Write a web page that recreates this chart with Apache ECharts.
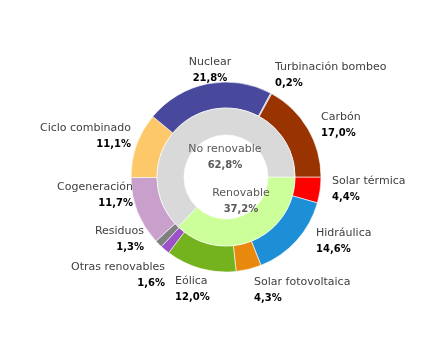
<!DOCTYPE html>
<html><head><meta charset="utf-8">
<script src="https://cdn.jsdelivr.net/npm/echarts@6/dist/echarts.min.js"></script>
<style>html,body{margin:0;padding:0;background:#fff}#c{width:437px;height:352px}</style>
</head><body><div id="c"></div>
<script>
// ---- data ----
const techNames = ['Solar térmica','Hidráulica','Solar fotovoltaica','Eólica','Otras renovables','Residuos','Cogeneración','Ciclo combinado','Nuclear','Turbinación bombeo','Carbón'];
const techValues = [4.4, 14.6, 4.3, 12.0, 1.6, 1.3, 11.7, 11.1, 21.8, 0.2, 17.0];
const groupNames = ['Renovable','No renovable'];
const groupValues = [37.2, 62.8];

// ---- styles ----
const techColors = ['#FF0000','#1C8FD6','#E8890E','#74B31E','#9B52C6','#7F7F7F','#C99FCB','#FDC86A','#48489C','#A8A8CC','#993300'];
const groupColors = ['#CCFF99','#D9D9D9'];
// label anchor [x, y, align]
const techLabelPos = [[332,189,'left'],[316,241,'left'],[254,290,'left'],[175,289,'left'],[165,275,'right'],[144,239,'right'],[133,195,'right'],[131,136,'right'],[210,70,'center'],[275,75,'left'],[321,125,'left']];
const groupLabelPos = [[241,201,'center'],[225,157,'center']];

const fmt = v => v.toFixed(1).replace('.', ',') + '%';
const FONT = 'DejaVu Sans';

const chart = echarts.init(document.getElementById('c'), null, {renderer:'canvas'});
chart.setOption({
  animation: false,
  backgroundColor: '#fff',
  series: [
    {
      type: 'pie',
      center: [226, 177],
      radius: [69, 95],
      startAngle: 0,
      clockwise: true,
      avoidLabelOverlap: false,
      itemStyle: {borderColor: '#fff', borderWidth: 0.6},
      label: {
        show: true, position: 'outside',
        formatter: p => '{n|' + p.name + '}\n{p|' + fmt(p.value) + '}',
        rich: {
          n: {fontFamily: FONT, fontSize: 11, color: '#404040', lineHeight: 16},
          p: {fontFamily: FONT, fontSize: 10, fontWeight: 'bold', color: '#000', lineHeight: 16}
        }
      },
      labelLine: {show: false},
      labelLayout: p => {
        const q = techLabelPos[p.dataIndex];
        return {x: q[0], y: q[1], align: q[2], verticalAlign: 'middle'};
      },
      data: techNames.map((n, i) => ({name: n, value: techValues[i], itemStyle: {color: techColors[i]}}))
    },
    {
      type: 'pie',
      center: [226, 177],
      radius: [42, 69],
      startAngle: 0,
      clockwise: true,
      avoidLabelOverlap: false,
      itemStyle: {borderColor: '#fff', borderWidth: 0.6},
      label: {
        show: true, position: 'inside',
        formatter: p => '{n|' + p.name + '}\n{p|' + fmt(p.value) + '}',
        rich: {
          n: {fontFamily: FONT, fontSize: 11, color: '#595959', lineHeight: 16},
          p: {fontFamily: FONT, fontSize: 10, fontWeight: 'bold', color: '#595959', lineHeight: 16}
        }
      },
      labelLine: {show: false},
      labelLayout: p => {
        const q = groupLabelPos[p.dataIndex];
        return {x: q[0], y: q[1], align: q[2], verticalAlign: 'middle'};
      },
      data: groupNames.map((n, i) => ({name: n, value: groupValues[i], itemStyle: {color: groupColors[i]}}))
    }
  ]
});
</script></body></html>
